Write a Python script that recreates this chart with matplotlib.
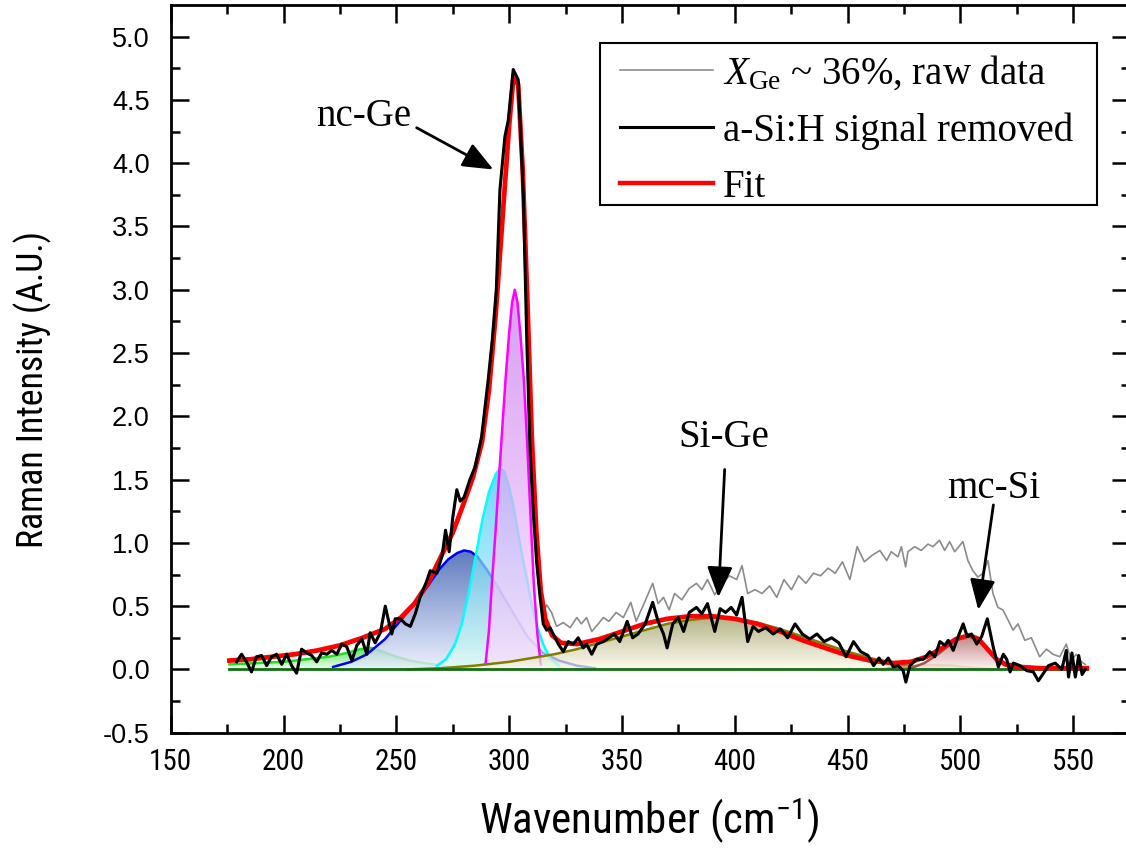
import numpy as np
import matplotlib
matplotlib.use("Agg")
import matplotlib.pyplot as plt
import matplotlib.colors as mcolors
from matplotlib import font_manager as fm
from matplotlib.lines import Line2D
from matplotlib.patches import Rectangle

# pick a condensed sans face if one is installed (reference uses Arial Narrow)
fonts = fm.fontManager.ttflist
names = {f.name for f in fonts}
narrow_stretch = 'normal'
if 'Liberation Sans Narrow' in names:
    narrow = 'Liberation Sans Narrow'
elif 'Roboto Condensed' in names:
    narrow = 'Roboto Condensed'
elif any(f.name == 'DejaVu Sans' and f.stretch == 'condensed' for f in fonts):
    narrow, narrow_stretch = 'DejaVu Sans', 'condensed'
elif any(f.name == 'Roboto' and f.stretch == 'condensed' for f in fonts):
    narrow, narrow_stretch = 'Roboto', 'condensed'
else:
    narrow = 'Liberation Sans'

plt.rcParams['mathtext.fontset'] = 'custom'
plt.rcParams['mathtext.rm'] = 'Liberation Serif'
plt.rcParams['mathtext.it'] = 'Liberation Serif:italic'
plt.rcParams['mathtext.sf'] = narrow + ':stretch=' + narrow_stretch

# --- measured spectrum (a-Si:H signal removed) ---
black_x = [179.2, 181.4, 183.6, 185.8, 188.0, 190.3, 192.5, 194.7, 196.9, 199.2,
           201.4, 203.6, 205.8, 208.0, 210.3, 212.5, 214.7, 216.9, 219.2, 221.4,
           223.6, 225.8, 228.0, 230.3, 232.5, 234.7, 236.9, 238.4, 240.6, 242.9,
           245.1, 246.6, 248.0, 249.5, 251.8, 254.0, 256.2, 258.4, 260.5, 263.5,
           265.0, 267.9, 270.3, 271.8, 273.4, 275.0, 276.8, 278.3, 280.0, 282.6,
           284.9, 287.8, 290.7, 292.5, 294.3, 295.9, 298.1, 299.6, 301.8, 304.0,
           306.3, 307.8, 309.2, 310.7, 312.2, 313.7, 315.1, 316.6, 318.1, 319.5,
           321.8, 324.0, 326.2, 328.4, 330.6, 332.8, 334.3, 336.6, 338.8, 341.7,
           344.2, 346.6, 349.0, 352.3, 354.7, 357.1, 360.3, 363.6, 366.0, 368.4,
           370.0, 372.5, 374.9, 377.3, 379.8, 383.0, 385.4, 387.9, 391.1, 393.5,
           395.9, 398.4, 400.8, 403.2, 405.7, 408.1, 410.5, 413.7, 417.0, 420.2,
           423.4, 426.7, 429.9, 433.2, 436.4, 439.6, 442.9, 446.1, 449.3, 452.6,
           455.8, 459.0, 461.5, 463.9, 465.8, 468.0, 470.2, 472.4, 474.6, 475.8,
           477.6, 480.5, 483.5, 486.4, 488.6, 490.9, 493.1, 494.6, 496.8, 499.0,
           501.2, 503.0, 504.9, 507.2, 509.4, 511.9, 514.6, 516.8, 519.0, 520.5,
           522.0, 523.4, 526.4, 529.4, 532.3, 534.5, 536.8, 539.0, 542.0, 544.9,
           546.9, 547.9, 549.4, 550.9, 552.4, 553.9, 555.3]
black_y = [0.06, 0.12, 0.06, -0.02, 0.10, 0.11, 0.03, 0.10, 0.12, 0.04,
           0.12, 0.03, -0.03, 0.16, 0.13, 0.11, 0.06, 0.13, 0.12, 0.15,
           0.12, 0.20, 0.18, 0.07, 0.19, 0.24, 0.12, 0.29, 0.21, 0.29,
           0.50, 0.38, 0.28, 0.40, 0.40, 0.36, 0.34, 0.44, 0.57, 0.70,
           0.78, 0.76, 0.90, 1.10, 0.93, 1.20, 1.42, 1.33, 1.36, 1.50,
           1.60, 1.84, 2.29, 2.60, 3.00, 3.79, 4.21, 4.34, 4.74, 4.66,
           3.74, 2.60, 1.76, 1.23, 0.84, 0.57, 0.36, 0.31, 0.33, 0.28,
           0.20, 0.14, 0.22, 0.20, 0.25, 0.17, 0.20, 0.12, 0.20, 0.22,
           0.25, 0.28, 0.22, 0.38, 0.25, 0.28, 0.36, 0.53, 0.38, 0.28,
           0.17, 0.36, 0.41, 0.30, 0.45, 0.49, 0.44, 0.52, 0.30, 0.48,
           0.45, 0.49, 0.43, 0.57, 0.22, 0.34, 0.30, 0.33, 0.28, 0.32,
           0.25, 0.36, 0.28, 0.24, 0.28, 0.22, 0.25, 0.21, 0.10, 0.22,
           0.14, 0.11, 0.03, 0.09, 0.04, 0.09, 0.02, 0.03, -0.01, -0.10,
           0.03, 0.08, 0.08, 0.14, 0.10, 0.22, 0.19, 0.23, 0.15, 0.26,
           0.36, 0.26, 0.28, 0.20, 0.26, 0.40, 0.17, 0.02, 0.12, 0.08,
           -0.02, 0.05, 0.03, -0.01, -0.02, -0.09, -0.03, 0.03, 0.05, 0.00,
           0.15, -0.06, 0.13, -0.06, 0.11, -0.04, 0.00]

# --- raw data: identical to the above up to ~314 cm-1, then its own values ---
raw_tail_x = [315.1, 316.6, 318.8, 321.0, 324.0, 327.0, 330.0, 332.0, 334.3, 336.6,
              339.5, 341.7, 344.2, 347.4, 350.6, 353.9, 356.3, 359.5, 363.6, 366.0,
              368.4, 370.9, 373.3, 376.5, 379.8, 383.0, 385.4, 387.9, 391.1, 394.3,
              397.6, 400.8, 403.2, 405.7, 408.9, 412.1, 415.4, 418.6, 421.8, 425.1,
              428.3, 431.5, 434.8, 438.0, 441.3, 444.5, 447.7, 451.0, 454.2, 457.4,
              460.7, 464.3, 467.3, 469.3, 472.3, 473.8, 475.7, 476.7, 479.7, 482.6,
              485.6, 487.8, 490.7, 493.0, 495.2, 497.4, 501.1, 503.3, 505.5, 507.7,
              510.0, 512.2, 514.4, 516.6, 518.8, 521.1, 523.3, 525.5, 528.5, 531.4,
              535.1, 538.1, 541.0, 544.0, 546.9, 549.1, 551.3, 553.6, 555.3]
raw_tail_y = [0.45, 0.51, 0.45, 0.34, 0.37, 0.33, 0.41, 0.36, 0.41, 0.30,
              0.36, 0.41, 0.38, 0.45, 0.41, 0.53, 0.38, 0.51, 0.68, 0.52,
              0.57, 0.47, 0.60, 0.55, 0.64, 0.68, 0.63, 0.71, 0.59, 0.68,
              0.74, 0.71, 0.82, 0.60, 0.63, 0.60, 0.66, 0.57, 0.71, 0.63,
              0.74, 0.68, 0.76, 0.74, 0.80, 0.76, 0.85, 0.71, 0.97, 0.85,
              0.90, 0.94, 0.86, 0.93, 0.89, 0.97, 0.81, 0.93, 0.97, 0.94,
              0.99, 0.97, 1.02, 0.94, 1.01, 0.93, 1.01, 0.86, 0.78, 0.73,
              0.76, 0.86, 0.60, 0.49, 0.47, 0.39, 0.31, 0.36, 0.23, 0.25,
              0.10, 0.16, 0.12, 0.10, 0.20, 0.07, 0.12, 0.06, 0.04]
raw_x = black_x[:66] + raw_tail_x
raw_y = black_y[:66] + raw_tail_y

# --- cumulative fit ---
fit_x = [176, 185, 195, 205, 215, 225, 235, 245, 252, 258, 264, 270, 275, 280, 284,
         288, 291, 294, 297, 300, 302, 304, 306, 308, 310, 312, 314, 316, 319, 323,
         330, 340, 350, 360, 370, 380, 390, 400, 410, 420, 430, 440, 450, 460, 470,
         478, 485, 492, 498, 504, 508, 512, 516, 520, 526, 535, 545, 556]
fit_y = [0.07, 0.08, 0.10, 0.12, 0.15, 0.19, 0.25, 0.32, 0.41, 0.52, 0.68, 0.90, 1.08, 1.32, 1.52,
         1.80, 2.20, 2.80, 3.55, 4.30, 4.70, 4.62, 3.95, 2.95, 1.85, 1.10, 0.62, 0.40, 0.27, 0.21,
         0.20, 0.24, 0.30, 0.36, 0.40, 0.42, 0.42, 0.40, 0.36, 0.30, 0.23, 0.17, 0.11, 0.07, 0.05,
         0.06, 0.10, 0.17, 0.24, 0.27, 0.24, 0.16, 0.08, 0.04, 0.02, 0.01, 0.01, 0.01]

# --- fitted peak components ---
green_x = [176, 188, 200, 210, 220, 228, 234, 239, 244, 250, 256, 262, 270, 280]
green_y = [0.04, 0.05, 0.06, 0.08, 0.10, 0.13, 0.16, 0.17, 0.14, 0.10, 0.07, 0.05, 0.03, 0.01]

blue_x = [222, 230, 237, 245, 252, 258, 264, 269, 273, 277, 280, 283, 286, 290, 295,
          301, 308, 315, 322, 330, 338]
blue_y = [0.02, 0.06, 0.12, 0.24, 0.39, 0.52, 0.66, 0.79, 0.87, 0.92, 0.94, 0.93, 0.89, 0.79, 0.65,
          0.47, 0.26, 0.13, 0.07, 0.03, 0.01]

cyan_x = [268, 272, 276, 279, 282, 285, 288, 291, 294, 296, 298, 300, 302, 304, 306,
          308, 310, 312, 315, 318, 322]
cyan_y = [0.03, 0.08, 0.20, 0.36, 0.60, 0.88, 1.17, 1.40, 1.54, 1.59, 1.56, 1.44, 1.28, 1.07, 0.88,
          0.70, 0.51, 0.36, 0.20, 0.09, 0.03]

magenta_x = [289.5, 291, 292.5, 294, 295.5, 297, 298.5, 300, 301.3, 302.5, 303.7, 305,
             306.5, 308, 309.5, 311, 312.5, 314]
magenta_y = [0.04, 0.30, 0.72, 1.10, 1.52, 1.92, 2.32, 2.66, 2.90, 3.00, 2.90, 2.64,
             2.29, 1.78, 1.20, 0.65, 0.28, 0.04]

olive_x = [255, 270, 285, 300, 310, 320, 330, 340, 350, 360, 370, 380, 390, 400, 410,
           420, 430, 440, 450, 460, 470, 480, 490]
olive_y = [0.0, 0.01, 0.03, 0.06, 0.09, 0.12, 0.16, 0.21, 0.26, 0.31, 0.36, 0.39, 0.41, 0.40, 0.37,
           0.32, 0.26, 0.20, 0.14, 0.09, 0.05, 0.02, 0.0]

mcsi_x = [478, 484, 490, 495, 500, 504, 508, 512, 516, 520, 525]
mcsi_y = [0.01, 0.05, 0.12, 0.19, 0.25, 0.26, 0.23, 0.16, 0.08, 0.03, 0.01]

tan_x = [465, 475, 485, 495, 505, 515]
tan_y = [0.0, 0.02, 0.035, 0.03, 0.015, 0.0]

baseline_x = [176, 556]
baseline_y = [0.0, 0.0]


def grad_fill(ax, x, y, c_top, c_bot, line_color, z, alpha=0.8):
    x = np.asarray(x, float)
    y = np.asarray(y, float)
    poly = ax.fill_between(x, 0, y, facecolor='none', edgecolor='none', zorder=z)
    top = np.array(mcolors.to_rgb(c_top))
    bot = np.array(mcolors.to_rgb(c_bot))
    t = np.linspace(0, 1, 256)[:, None]
    img = (bot + (top - bot) * t)[:, None, :]
    im = ax.imshow(img, extent=[x.min(), x.max(), 0, y.max()], origin='lower',
                   aspect='auto', alpha=alpha, zorder=z, interpolation='bilinear')
    im.set_clip_path(poly.get_paths()[0], transform=ax.transData)
    ax.plot(x, y, color=line_color, lw=1.8, zorder=z + 0.1)


fig = plt.figure(figsize=(11.26, 8.49), dpi=100)
ax = fig.add_axes([170.7 / 1126, (849 - 732.7) / 849, (1129.7 - 170.7) / 1126, (732.7 - 5) / 849])

grad_fill(ax, green_x, green_y, '#30dd30', '#eaffea', '#22dd22', 1)
grad_fill(ax, blue_x, blue_y, '#3558ad', '#e8eeff', '#0000ff', 1.2)
grad_fill(ax, cyan_x, cyan_y, '#35c5ff', '#dafff2', '#00ffff', 1.4, alpha=0.72)
grad_fill(ax, magenta_x, magenta_y, '#c679ee', '#ffdcff', '#ff00ff', 1.6, alpha=0.72)
grad_fill(ax, olive_x, olive_y, '#96965a', '#fffbe8', '#808000', 1.8, alpha=0.72)
grad_fill(ax, tan_x, tan_y, '#d4a870', '#f5e6d0', '#c89860', 2.0)
grad_fill(ax, mcsi_x, mcsi_y, '#b06a6a', '#fff0f0', '#a05050', 2.2)
ax.plot(baseline_x, baseline_y, color='#107010', lw=2.0, zorder=2.5)

ax.plot(raw_x, raw_y, color='#8c8c8c', lw=1.2, zorder=3)
ax.plot(fit_x, fit_y, color='#ff0000', lw=3.4, zorder=4)
ax.plot(black_x, black_y, color='black', lw=2.2, zorder=5)

ax.set_xlim(150, 575)
ax.set_ylim(-0.5, 5.25)
ax.set_xticks(np.arange(150, 551, 50))
ax.set_xticks(np.arange(175, 576, 50), minor=True)
ax.set_yticks(np.arange(-0.5, 5.01, 0.5))
ax.set_yticks(np.arange(-0.25, 5.25, 0.5), minor=True)
ax.set_yticklabels([f'{v:.1f}' for v in np.arange(-0.5, 5.01, 0.5)],
                   fontsize=19.5, family='Liberation Sans')
ax.set_xticklabels([str(v) for v in range(150, 551, 50)], fontsize=21,
                   family=narrow, stretch=narrow_stretch)
ax.tick_params(which='both', direction='in', top=True, right=True, width=1.8)
ax.tick_params(which='major', length=13)
ax.tick_params(which='minor', length=6.5)
ax.tick_params(axis='x', pad=11)
ax.tick_params(axis='y', pad=15)
for s in ax.spines.values():
    s.set_linewidth(2.0)

ylab = fig.text(33 / 1126, 1 - 390 / 849, 'Raman Intensity (A.U.)', rotation=90,
                ha='center', va='center', fontsize=27, family=narrow, stretch=narrow_stretch)
xlab = fig.text(649 / 1126, 1 - 821 / 849, r'Wavenumber (cm$^{\mathsf{-1}}$)',
                ha='center', va='center', fontsize=29, family=narrow, stretch=narrow_stretch)

serif = 'Liberation Serif'
arrow = dict(arrowstyle='-|>,head_length=0.6,head_width=0.25', color='black', lw=2,
             mutation_scale=31, shrinkA=0, shrinkB=0)
ax.text(235.7, 4.37, 'nc-Ge', fontsize=28, family=serif, ha='center', va='center')
ax.annotate('', xy=(293, 3.95), xytext=(259, 4.28), arrowprops=arrow)
ax.text(395, 1.83, 'Si-Ge', fontsize=28, family=serif, ha='center', va='center')
ax.annotate('', xy=(392.7, 0.57), xytext=(395.5, 1.58), arrowprops=arrow)
ax.text(514.6, 1.43, 'mc-Si', fontsize=28, family=serif, ha='center', va='center')
ax.annotate('', xy=(507.9, 0.47), xytext=(514.6, 1.30), arrowprops=arrow)

# legend: frame drawn as a plain box, entries placed inside it
ax.add_patch(Rectangle((600 / 1126, 1 - 205 / 849), 497 / 1126, 162 / 849,
                       transform=fig.transFigure, facecolor='white', edgecolor='black',
                       lw=1.5, zorder=6, clip_on=False))
handles = [Line2D([], [], color='#8c8c8c', lw=1.2),
           Line2D([], [], color='black', lw=2.2),
           Line2D([], [], color='#ff0000', lw=3.2)]
labels = [r'$X_{\mathrm{Ge}}$ ~ 36%, raw data', 'a-Si:H signal removed', 'Fit']
leg = ax.legend(handles, labels, loc='upper left', bbox_to_anchor=(620 / 1126, 1 - 54 / 849),
                bbox_transform=fig.transFigure, borderaxespad=0, borderpad=0,
                prop={'family': serif, 'size': 28}, frameon=False,
                handlelength=2.4, handletextpad=0.25, labelspacing=0.5)
leg.set_zorder(7)

# scale the axis titles so they span the lengths seen in the reference
fig.canvas.draw()
r = fig.canvas.get_renderer()
ylab.set_fontsize(ylab.get_fontsize() * 316 / ylab.get_window_extent(r).height)
xlab.set_fontsize(xlab.get_fontsize() * 340 / xlab.get_window_extent(r).width)

fig.savefig('out.png', dpi=100)
